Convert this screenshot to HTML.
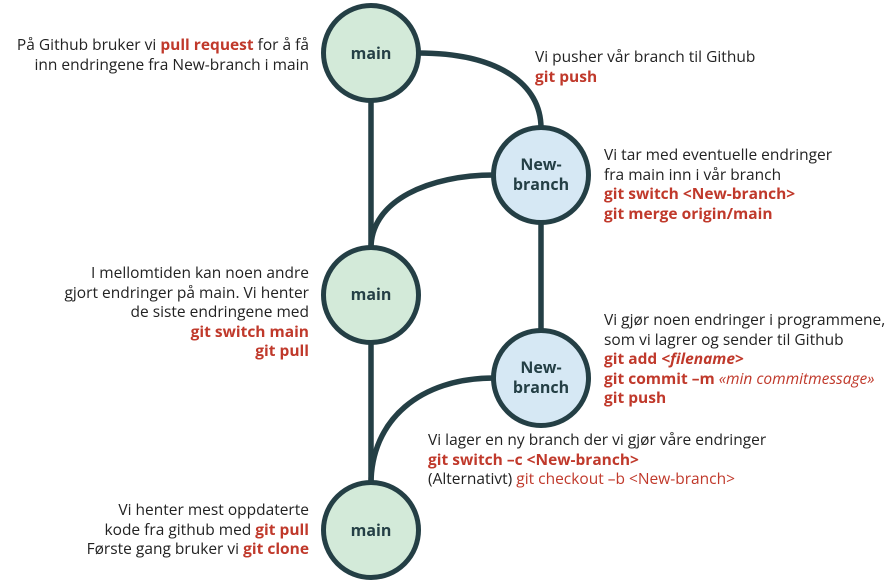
<!DOCTYPE html>
<html><head><meta charset="utf-8"><style>
body{margin:0;width:893px;height:582px;background:#fff;position:relative;overflow:hidden;font-family:"Open Sans","Liberation Sans",sans-serif;font-size:15.5px;color:#222;}
.t{position:absolute;line-height:19.5px;white-space:nowrap;}
.r{text-align:right;}
.b{color:#c0392b;font-weight:bold;}
.c{color:#c0392b;}
svg{position:absolute;left:0;top:0;}
.n{font-family:"Open Sans","Liberation Sans",sans-serif;font-weight:bold;font-size:16px;fill:#243f45;}
</style></head><body>
<svg width="893" height="582">
<g fill="none" stroke="#243f45" stroke-width="5.5">
<line x1="371" y1="100" x2="371" y2="248"/>
<line x1="371" y1="342" x2="371" y2="484"/>
<line x1="541" y1="223" x2="541" y2="332"/>
<path d="M418 53 C500 53 541 85 541 128"/>
<path d="M371 248 C371 200 430 175 494 175"/>
<path d="M371 484 C371 420 420 378 494 378"/>
</g>
<g stroke="#243f45" stroke-width="5">
<circle cx="371" cy="53" r="47.5" fill="#d3ead9"/>
<circle cx="371" cy="295" r="47.5" fill="#d3ead9"/>
<circle cx="371" cy="530" r="47.5" fill="#d3ead9"/>
<circle cx="541" cy="175" r="47.5" fill="#d6e8f4"/>
<circle cx="541" cy="378" r="47.5" fill="#d6e8f4"/>
</g>
<text class="n" x="371" y="59" text-anchor="middle">main</text>
<text class="n" x="371" y="300" text-anchor="middle">main</text>
<text class="n" x="371" y="536" text-anchor="middle">main</text>
<text class="n" x="541" y="170" text-anchor="middle">New-</text>
<text class="n" x="541" y="190" text-anchor="middle">branch</text>
<text class="n" x="541" y="373" text-anchor="middle">New-</text>
<text class="n" x="541" y="393" text-anchor="middle">branch</text>
</svg>
<div class="t r" style="right:584px;top:35px">På Github bruker vi <span class="b">pull request</span> for å få<br>inn endringene fra New-branch i main</div>
<div class="t" style="left:535px;top:47px">Vi pusher vår branch til Github<br><span class="b">git push</span></div>
<div class="t" style="left:604px;top:145px">Vi tar med eventuelle endringer<br>fra main inn i vår branch<br><span class="b">git switch &lt;New-branch&gt;</span><br><span class="b">git merge origin/main</span></div>
<div class="t r" style="right:584px;top:263px">I mellomtiden kan noen andre<br>gjort endringer på main. Vi henter<br>de siste endringene med<br><span class="b">git switch main</span><br><span class="b">git pull</span></div>
<div class="t" style="left:604px;top:310px">Vi gjør noen endringer i programmene,<br>som vi lagrer og sender til Github<br><span class="b">git add <i>&lt;filename</i>&gt;</span><br><span class="b">git commit –m</span> <i class="c">«min commitmessage»</i><br><span class="b">git push</span></div>
<div class="t" style="left:428px;top:430px">Vi lager en ny branch der vi gjør våre endringer<br><span class="b">git switch –c &lt;New-branch&gt;</span><br>(Alternativt) <span class="c">git checkout –b &lt;New-branch&gt;</span></div>
<div class="t r" style="right:584px;top:500px">Vi henter mest oppdaterte<br>kode fra github med <span class="b">git pull</span><br>Første gang bruker vi <span class="b">git clone</span></div>
</body></html>
